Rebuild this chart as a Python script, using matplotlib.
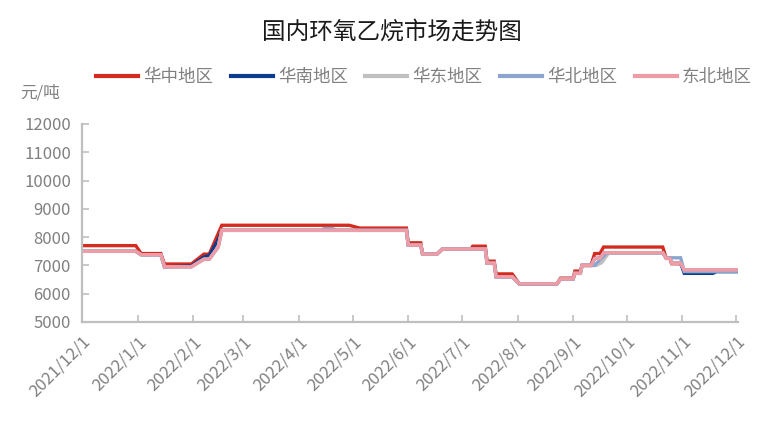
import matplotlib
matplotlib.use("Agg")
import matplotlib.pyplot as plt
import pandas as pd

plt.rcParams['font.family'] = ['Noto Sans CJK SC', 'DejaVu Sans']

title = "国内环氧乙烷市场走势图"
unit = "元/吨"
series_names = ["华中地区", "华南地区", "华东地区", "华北地区", "东北地区"]
colors = ["#d52b1e", "#0d3c8c", "#c0c0c0", "#8ba5cc", "#f09ca6"]

central_dates = ["2021-12-01", "2021-12-31", "2022-01-03", "2022-01-14", "2022-01-16", "2022-01-31",
                 "2022-02-07", "2022-02-10", "2022-02-17", "2022-04-29", "2022-05-05",
                 "2022-05-31", "2022-06-01", "2022-06-08", "2022-06-09", "2022-06-17", "2022-06-20",
                 "2022-07-06", "2022-07-07", "2022-07-14", "2022-07-15", "2022-07-19", "2022-07-20",
                 "2022-07-29", "2022-08-02", "2022-08-23", "2022-08-25", "2022-09-01", "2022-09-02",
                 "2022-09-05", "2022-09-06", "2022-09-11", "2022-09-13", "2022-09-16", "2022-09-18",
                 "2022-10-21", "2022-10-23", "2022-10-25", "2022-10-26", "2022-10-31", "2022-11-02",
                 "2022-12-01"]
central_vals = [7700, 7700, 7420, 7420, 7050, 7050,
                7400, 7400, 8420, 8420, 8320,
                8320, 7800, 7800, 7400, 7400, 7580,
                7580, 7680, 7680, 7150, 7150, 6700,
                6700, 6350, 6350, 6550, 6550, 6800,
                6800, 7000, 7000, 7420, 7420, 7650,
                7650, 7250, 7250, 7060, 7060, 6840,
                6840]

south_dates = ["2021-12-01", "2021-12-31", "2022-01-03", "2022-01-14", "2022-01-16", "2022-01-31",
               "2022-02-07", "2022-02-10", "2022-02-15", "2022-02-17", "2022-05-31", "2022-06-01",
               "2022-06-08", "2022-06-09", "2022-06-17", "2022-06-20", "2022-07-14", "2022-07-15",
               "2022-07-19", "2022-07-20", "2022-07-29", "2022-08-02", "2022-08-23", "2022-08-25",
               "2022-09-01", "2022-09-02", "2022-09-05", "2022-09-06", "2022-09-11", "2022-09-13",
               "2022-09-16", "2022-09-18", "2022-10-21", "2022-10-23", "2022-10-25", "2022-10-26",
               "2022-10-31", "2022-11-02", "2022-11-18", "2022-11-20", "2022-12-01"]
south_vals = [7500, 7500, 7380, 7380, 6950, 6980,
              7300, 7350, 7920, 8240, 8240, 7720,
              7720, 7400, 7400, 7580, 7580, 7080,
              7080, 6600, 6600, 6350, 6350, 6520,
              6520, 6720, 6720, 7000, 7000, 7250,
              7250, 7450, 7450, 7250, 7250, 7080,
              7080, 6720, 6720, 6780, 6780]

east_dates = ["2021-12-01", "2021-12-31", "2022-01-03", "2022-01-14", "2022-01-16", "2022-01-31",
              "2022-02-07", "2022-02-10", "2022-02-15", "2022-02-17", "2022-05-31", "2022-06-01",
              "2022-06-08", "2022-06-09", "2022-06-17", "2022-06-20", "2022-07-14", "2022-07-15",
              "2022-07-19", "2022-07-20", "2022-07-29", "2022-08-02", "2022-08-23", "2022-08-25",
              "2022-09-01", "2022-09-02", "2022-09-05", "2022-09-06", "2022-09-14", "2022-09-17",
              "2022-09-21", "2022-10-21", "2022-10-23", "2022-10-25", "2022-10-26", "2022-10-31",
              "2022-11-02", "2022-12-01"]
east_vals = [7500, 7500, 7380, 7380, 6950, 6950,
             7220, 7220, 7650, 8240, 8240, 7720,
             7720, 7400, 7400, 7580, 7580, 7080,
             7080, 6600, 6600, 6350, 6350, 6520,
             6520, 6720, 6720, 7000, 7000, 7100,
             7450, 7450, 7250, 7250, 7080, 7080,
             6840, 6840]

north_dates = ["2021-12-01", "2021-12-31", "2022-01-03", "2022-01-14", "2022-01-16", "2022-01-31",
               "2022-02-07", "2022-02-10", "2022-02-15", "2022-02-17", "2022-04-13", "2022-04-15",
               "2022-04-20", "2022-04-22", "2022-05-31", "2022-06-01", "2022-06-08", "2022-06-09",
               "2022-06-17", "2022-06-20", "2022-07-14", "2022-07-15", "2022-07-19", "2022-07-20",
               "2022-07-29", "2022-08-02", "2022-08-23", "2022-08-25", "2022-09-01", "2022-09-02",
               "2022-09-05", "2022-09-06", "2022-09-13", "2022-09-16", "2022-09-20", "2022-10-21",
               "2022-10-23", "2022-10-31", "2022-11-02", "2022-12-01"]
north_vals = [7500, 7500, 7380, 7380, 6950, 6950,
              7220, 7220, 7650, 8240, 8240, 8300,
              8300, 8240, 8240, 7720, 7720, 7400,
              7400, 7580, 7580, 7080, 7080, 6600,
              6600, 6350, 6350, 6520, 6520, 6720,
              6720, 7000, 7000, 7200, 7450, 7450,
              7270, 7270, 6780, 6780]

northeast_dates = ["2021-12-01", "2021-12-31", "2022-01-03", "2022-01-14", "2022-01-16", "2022-01-31",
                   "2022-02-07", "2022-02-10", "2022-02-15", "2022-02-17", "2022-05-31", "2022-06-01",
                   "2022-06-08", "2022-06-09", "2022-06-17", "2022-06-20", "2022-07-14", "2022-07-15",
                   "2022-07-19", "2022-07-20", "2022-07-29", "2022-08-02", "2022-08-23", "2022-08-25",
                   "2022-09-01", "2022-09-02", "2022-09-05", "2022-09-06", "2022-09-11", "2022-09-13",
                   "2022-09-16", "2022-09-18", "2022-10-21", "2022-10-23", "2022-10-25", "2022-10-26",
                   "2022-10-31", "2022-11-02", "2022-12-01"]
northeast_vals = [7500, 7500, 7380, 7380, 6950, 6950,
                  7220, 7220, 7650, 8240, 8240, 7720,
                  7720, 7400, 7400, 7580, 7580, 7080,
                  7080, 6600, 6600, 6350, 6350, 6520,
                  6520, 6720, 6720, 7000, 7000, 7250,
                  7250, 7450, 7450, 7250, 7250, 7080,
                  7080, 6840, 6840]

tick_labels = ["2021/12/1", "2022/1/1", "2022/2/1", "2022/3/1", "2022/4/1", "2022/5/1", "2022/6/1",
               "2022/7/1", "2022/8/1", "2022/9/1", "2022/10/1", "2022/11/1", "2022/12/1"]
y_ticks = [5000, 6000, 7000, 8000, 9000, 10000, 11000, 12000]

all_series = [(central_dates, central_vals), (south_dates, south_vals), (east_dates, east_vals),
              (north_dates, north_vals), (northeast_dates, northeast_vals)]

fig = plt.figure(figsize=(7.83, 4.43), dpi=100)
ax = fig.add_axes([82 / 783, 1 - 322 / 443, (738 - 82) / 783, (322 - 124) / 443])

for name, color, (d, v) in zip(series_names, colors, all_series):
    ax.plot(pd.to_datetime(d), v, color=color, lw=2.4, label=name, solid_joinstyle='miter')

ax.set_xlim(pd.Timestamp("2021-12-01"), pd.Timestamp("2022-12-02"))
ax.set_ylim(5000, 12000)
ax.set_yticks(y_ticks)
ax.set_yticklabels([str(t) for t in y_ticks])
tick_pos = pd.to_datetime([t.replace("/", "-") for t in tick_labels])
ax.set_xticks(tick_pos)
ax.set_xticklabels(tick_labels, rotation=45, ha='right', va='top', rotation_mode='anchor')

for s in ['top', 'right']:
    ax.spines[s].set_visible(False)
for s in ['left', 'bottom']:
    ax.spines[s].set_color('#bfbfbf')
    ax.spines[s].set_linewidth(1.6)
ax.tick_params(axis='both', direction='in', color='#bfbfbf', width=1.2, length=5,
               labelcolor='#808080', labelsize=12)
ax.tick_params(axis='y', pad=8)
ax.tick_params(axis='x', pad=8)

fig.text(392 / 783, 1 - 32 / 443, title, ha='center', va='center', fontsize=17, color='#1a1a1a')
fig.text(20 / 783, 1 - 93 / 443, unit, ha='left', va='center', fontsize=12, color='#808080')

leg = fig.legend(loc='center', bbox_to_anchor=(424 / 783, 1 - 77 / 443), ncol=5, frameon=False,
                 fontsize=12.6, handlelength=2.4, columnspacing=1.0, handletextpad=0.3)
for t in leg.get_texts():
    t.set_color('#808080')
for l in leg.get_lines():
    l.set_linewidth(3)

fig.savefig("out.png", dpi=100)
